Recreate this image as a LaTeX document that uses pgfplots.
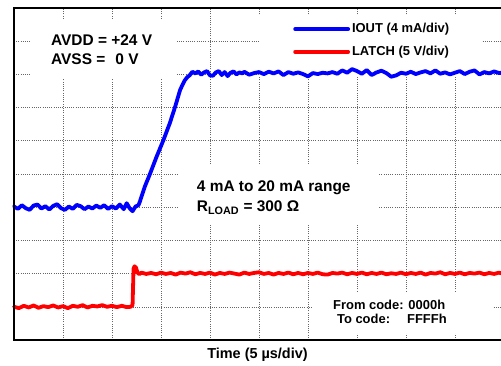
\documentclass[border=0pt]{standalone}
\usepackage{pgfplots}
\pgfplotsset{compat=1.18}
\usepackage{fontspec}
\setmainfont{Liberation Sans}
\newcommand{\bigf}{\fontsize{15.5}{18}\selectfont\bfseries}
\newcommand{\smf}{\fontsize{13}{15}\selectfont\bfseries}
\begin{document}
\begin{tikzpicture}
\begin{axis}[
  scale only axis, width=487bp, height=332bp,
  xmin=0, xmax=9.94, ymin=0, ymax=10,
  xtick={1,...,9}, ytick={1,...,9},
  xticklabels={}, yticklabels={},
  major tick length=0pt,
  grid=major,
  major grid style={draw=black!60, line width=0.6bp, dash pattern=on 1bp off 1.2bp},
  axis line style={draw=none},
  clip=false,
  xlabel={Time (5 µs/div)},
  x label style={at={(axis description cs:0.5,0)}, anchor=base, yshift=-18bp, font=\fontsize{14.5}{17}\selectfont\bfseries},
  legend style={at={(axis description cs:0.573,0.958)}, anchor=north west, draw=none, fill=none,
    inner sep=0pt, row sep=9bp, font=\smf,
    nodes={inner xsep=2bp, inner ysep=1bp, text height=9.3bp, text depth=2.5bp}},
  legend cell align=left,
  legend image code/.code={\draw[#1] (0bp,0bp) -- (53bp,0bp);},
]
% white backgrounds behind the annotations
\fill[white] (axis cs:0.35,7.9) rectangle (axis cs:3.3,9.64);
\fill[white] (axis cs:5.0,7.95) rectangle (axis cs:9.53,9.79);
\fill[white] (axis cs:3.35,3.46) rectangle (axis cs:7.45,5.27);
\fill[white] (axis cs:6.1,0.21) rectangle (axis cs:9.78,1.42);

\addplot[color={rgb,255:red,0;green,0;blue,255}, line width=3.8bp, line join=round, line cap=round] coordinates {
(0.00,4.02)(0.08,3.95)(0.16,4.06)(0.24,3.97)(0.32,3.92)(0.40,4.05)(0.48,4.08)(0.56,3.96)(0.64,4.03)(0.72,3.93)
(0.80,4.04)(0.88,4.09)(0.96,3.97)(1.04,3.92)(1.12,4.02)(1.20,3.95)(1.28,4.07)(1.36,4.03)(1.44,3.94)(1.52,4.02)
(1.60,3.96)(1.68,4.05)(1.76,3.98)(1.84,4.06)(1.92,3.95)(2.00,4.03)(2.08,3.96)(2.16,4.08)(2.24,3.94)(2.30,4.12)
(2.36,3.97)(2.42,3.88)(2.48,4.02)(2.54,4.06)(2.57,4.17)(2.62,4.40)(2.67,4.62)(2.78,5.02)(2.91,5.52)(3.05,6.02)
(3.18,6.53)(3.29,7.03)(3.39,7.53)(3.45,7.72)(3.49,7.83)(3.54,7.92)(3.59,7.98)(3.64,8.08)(3.70,8.03)(3.76,8.09)(3.82,7.99)
(3.88,8.06)(3.94,8.10)(4.00,7.97)(4.06,7.96)(4.12,8.06)(4.18,8.10)(4.24,7.98)(4.30,8.07)(4.36,7.95)(4.42,8.05)
(4.48,8.09)(4.54,8.00)(4.60,8.06)(4.66,8.03)(4.70,8.08)(4.80,7.99)(4.90,8.04)(5.00,8.07)(5.10,8.01)(5.20,8.08)
(5.30,8.03)(5.40,8.09)(5.50,7.98)(5.60,8.07)(5.70,8.02)(5.80,8.06)(5.90,8.01)(6.00,7.94)(6.10,8.04)(6.20,8.01)
(6.30,8.05)(6.40,8.03)(6.50,8.07)(6.60,8.02)(6.70,8.12)(6.80,8.05)(6.90,8.16)(7.00,8.10)(7.10,8.02)(7.20,8.13)
(7.30,7.98)(7.40,8.06)(7.50,8.11)(7.60,8.04)(7.70,7.93)(7.80,7.97)(7.90,8.05)(8.00,8.02)(8.10,8.08)(8.20,8.01)
(8.30,8.06)(8.40,8.10)(8.50,8.03)(8.60,8.12)(8.70,8.02)(8.80,8.06)(8.90,8.00)(9.00,8.05)(9.10,8.10)(9.20,8.01)
(9.30,8.08)(9.40,8.12)(9.50,8.00)(9.60,8.07)(9.70,8.03)(9.80,8.09)(9.90,8.04)(9.94,8.05)
};
\addlegendentry{IOUT (4 mA/div)}

\addplot[color={rgb,255:red,255;green,0;blue,0}, line width=3.8bp, line join=round, line cap=round] coordinates {
(0.00,1.00)(0.10,0.96)(0.20,1.03)(0.30,0.98)(0.40,1.04)(0.50,0.97)(0.60,1.02)(0.70,0.99)(0.80,1.04)(0.90,0.98)
(1.00,1.02)(1.10,0.96)(1.20,1.03)(1.30,1.00)(1.40,1.05)(1.50,0.98)(1.60,1.03)(1.70,1.01)(1.80,1.05)(1.90,1.00)
(2.00,1.03)(2.10,0.99)(2.20,1.03)(2.30,0.99)(2.38,1.00)(2.42,1.05)(2.43,1.60)(2.44,2.15)(2.46,2.22)(2.49,2.18)
(2.52,2.03)(2.56,1.98)(2.60,2.03)(2.70,1.99)(2.80,2.02)(2.90,1.98)(3.00,2.03)(3.10,1.99)(3.20,2.02)(3.30,1.97)
(3.40,2.03)(3.50,2.00)(3.60,2.04)(3.70,1.98)(3.80,2.02)(3.90,1.99)(4.00,2.03)(4.10,1.97)(4.20,2.02)(4.30,1.99)
(4.40,2.03)(4.50,2.00)(4.60,1.97)(4.70,2.03)(4.80,1.99)(4.90,2.02)(5.00,2.04)(5.10,1.99)(5.20,2.02)(5.30,1.97)
(5.40,2.02)(5.50,1.99)(5.60,2.03)(5.70,1.98)(5.80,2.02)(5.90,1.98)(6.00,2.02)(6.10,1.99)(6.20,2.03)(6.30,1.98)
(6.40,1.97)(6.50,2.02)(6.60,2.00)(6.70,2.03)(6.80,1.98)(6.90,2.02)(7.00,1.99)(7.10,2.03)(7.20,1.98)(7.30,2.02)
(7.40,1.99)(7.50,2.03)(7.60,1.98)(7.70,2.01)(7.80,1.99)(7.90,2.03)(8.00,1.98)(8.10,2.02)(8.20,1.99)(8.30,2.03)
(8.40,1.97)(8.50,2.02)(8.60,2.00)(8.70,2.04)(8.80,1.98)(8.90,2.02)(9.00,1.99)(9.10,2.03)(9.20,1.98)(9.30,2.02)
(9.40,2.00)(9.50,2.03)(9.60,1.98)(9.70,2.02)(9.80,1.99)(9.90,2.03)(9.94,2.01)
};
\addlegendentry{LATCH (5 V/div)}

% border: left, top, bottom
\draw[line width=2bp, line join=miter] (rel axis cs:1,1) -- (rel axis cs:0,1) -- (rel axis cs:0,0) -- (rel axis cs:1,0);

% annotations
\node[anchor=base west, inner sep=0pt, font=\bigf] at (axis cs:0.755,8.86) {AVDD = +24 V};
\node[anchor=base west, inner sep=0pt, font=\bigf] at (axis cs:0.755,8.30) {AVSS =\hspace{10bp}0 V};
\node[anchor=base west, inner sep=0pt, font=\bigf] at (axis cs:3.73,4.46) {4 mA to 20 mA range};
\node[anchor=base west, inner sep=0pt, font=\bigf] at (axis cs:3.73,3.86) {R\textsubscript{LOAD} = 300 Ω};
\node[anchor=base west, inner sep=0pt, font=\smf] at (axis cs:6.51,0.92) {From code: 0000h};
\node[anchor=base west, inner sep=0pt, font=\smf] at (axis cs:6.59,0.50) {To code:};
\node[anchor=base west, inner sep=0pt, font=\smf] at (axis cs:8.02,0.50) {FFFFh};
\end{axis}
\pgfresetboundingbox
\useasboundingbox ([xshift=-14bp,yshift=-26bp]current axis.south west) rectangle ([yshift=8bp]current axis.north east);
\end{tikzpicture}
\end{document}
